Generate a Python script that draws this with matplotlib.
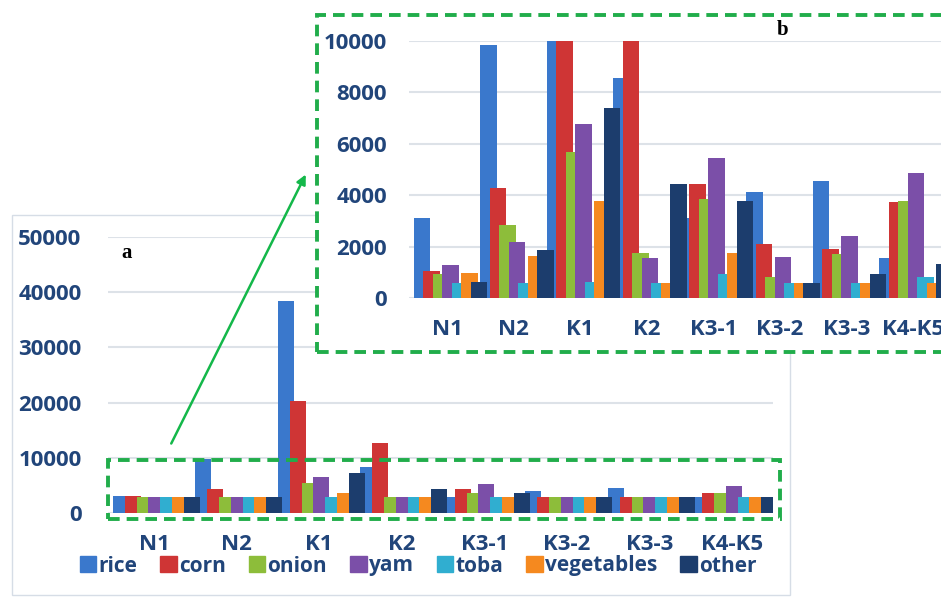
import matplotlib
matplotlib.use("Agg")
import matplotlib.pyplot as plt
from matplotlib.patches import Rectangle, Patch, FancyArrowPatch
import numpy as np

W, H = 941, 597

sites = ["N1", "N2", "K1", "K2", "K3-1", "K3-2", "K3-3", "K4-K5"]
crops = ["rice", "corn", "onion", "yam", "toba", "vegetables", "other"]
colors = ["#3a78cc", "#cf3535", "#8dbd3a", "#7b4fa8", "#30aed0", "#f5891f", "#1c3d6d"]

# panel a: full range
rice_a = [3100, 9700, 38400, 8400, 2950, 4000, 4450, 2900]
corn_a = [3000, 4300, 20300, 12700, 4350, 2900, 2900, 3550]
onion_a = [2900, 2900, 5500, 2900, 3700, 2900, 2900, 3700]
yam_a = [2900, 2900, 6600, 2900, 5200, 2900, 2900, 4900]
toba_a = [2900, 2900, 2900, 2900, 2900, 2900, 2900, 2900]
veg_a = [2900, 2900, 3700, 2900, 2900, 2900, 2900, 2900]
other_a = [2900, 2900, 7200, 4350, 3700, 2900, 2900, 2900]

# panel b: zoom of 0-10000
rice_b = [3100, 9850, 38400, 8540, 3100, 4140, 4570, 1550]
corn_b = [1050, 4270, 20300, 12700, 4440, 2100, 1910, 3750]
onion_b = [950, 2850, 5690, 1770, 3860, 840, 1720, 3790]
yam_b = [1300, 2200, 6770, 1580, 5430, 1620, 2420, 4880]
toba_b = [600, 600, 650, 600, 950, 600, 600, 840]
veg_b = [1000, 1650, 3790, 600, 1750, 600, 600, 600]
other_b = [650, 1880, 7370, 4440, 3790, 600, 950, 1330]

series_a = [rice_a, corn_a, onion_a, yam_a, toba_a, veg_a, other_a]
series_b = [rice_b, corn_b, onion_b, yam_b, toba_b, veg_b, other_b]

txt_color = "#21457a"
grid_color = "#dde2e8"
green = "#21ad4b"
font = {"family": "Open Sans", "weight": "bold", "size": 16}
legend_font = {"family": "Open Sans", "weight": "bold", "size": 15}

plt.rcParams["font.family"] = ["Open Sans", "DejaVu Sans"]


def fax(fig, left, top, right, bottom, z):
    # axes placed by pixel edges
    return fig.add_axes([left / W, 1 - bottom / H, (right - left) / W, (bottom - top) / H], zorder=z)


def draw_bars(ax, series, factor):
    # bars a bit wider than their step, later ones drawn on top
    step = 1 / 7
    x = np.arange(len(sites))
    for i, vals in enumerate(series):
        ax.bar(x + i * step, vals, width=step * factor, align="edge", color=colors[i], zorder=2 + i)


def style(ax, ticks, xpad, ypad):
    ax.set_yticks(ticks)
    ax.set_yticklabels([str(t) for t in ticks], fontdict=font, color=txt_color)
    ax.set_xticks(np.arange(len(sites)) + 0.5)
    ax.set_xticklabels(sites, fontdict=font, color=txt_color)
    ax.tick_params(axis="both", length=0)
    ax.tick_params(axis="y", pad=ypad)
    ax.tick_params(axis="x", pad=xpad)
    for s in ax.spines.values():
        s.set_visible(False)
    ax.grid(axis="y", color=grid_color, linewidth=1.5, zorder=0)
    ax.set_axisbelow(True)
    ax.patch.set_alpha(0)


fig = plt.figure(figsize=(W / 100, H / 100), dpi=100)

# panel a frame
fig.patches.append(Rectangle((12 / W, 1 - 595 / H), 778 / W, 380 / H, transform=fig.transFigure,
                             facecolor="white", edgecolor="#d6dde6", linewidth=1, zorder=0))

ax_a = fax(fig, 108, 237, 773, 513, 1)
draw_bars(ax_a, series_a, 1.35)
ax_a.set_ylim(0, 50000)
ax_a.set_xlim(-0.06, 8.0)
style(ax_a, [0, 10000, 20000, 30000, 40000, 50000], 15, 19)
fig.text(127 / W, 1 - 253 / H, "a", fontsize=15, fontweight="bold", family="Liberation Serif",
         ha="center", va="center")

fig.legend(handles=[Patch(color=c, label=l) for c, l in zip(colors, crops)],
           loc="center", bbox_to_anchor=(418 / W, 1 - 566 / H), ncol=7, frameon=False,
           handlelength=0.8, handleheight=0.8, handletextpad=0.1, columnspacing=1.1,
           prop=legend_font, labelcolor=txt_color)

# dashed box on panel a
fig.patches.append(Rectangle((108 / W, 1 - 519 / H), 672 / W, 59 / H, transform=fig.transFigure,
                             fill=False, edgecolor=green, linewidth=2.8, linestyle=(0, (3, 1.8)), zorder=5))

# panel b background
fig.patches.append(Rectangle((317 / W, 1 - 352 / H), 640 / W, 337 / H, transform=fig.transFigure,
                             facecolor="white", edgecolor="none", zorder=6))
ax_b = fax(fig, 409, 40.7, 941, 298.3, 7)
draw_bars(ax_b, series_b, 1.7)
ax_b.set_ylim(0, 10000)
ax_b.set_xlim(-0.075, 7.925)
style(ax_b, [0, 2000, 4000, 6000, 8000, 10000], 15, 16)
ax_b.text(783 / W, 1 - 30 / H, "b", transform=fig.transFigure, fontsize=15, fontweight="bold",
          family="Liberation Serif", ha="center", va="center")
fig.add_artist(Rectangle((317 / W, 1 - 352 / H), 640 / W, 337 / H, transform=fig.transFigure,
                         fill=False, edgecolor=green, linewidth=2.8, linestyle=(0, (3, 1.8)), zorder=8))

# arrow from the box to panel b
fig.add_artist(FancyArrowPatch((170 / W, 1 - 446 / H), (307 / W, 1 - 172 / H),
                               transform=fig.transFigure, arrowstyle="-|>",
                               mutation_scale=14, color="#14b84a", linewidth=1.8, zorder=9))

fig.savefig("out.png", dpi=100)
